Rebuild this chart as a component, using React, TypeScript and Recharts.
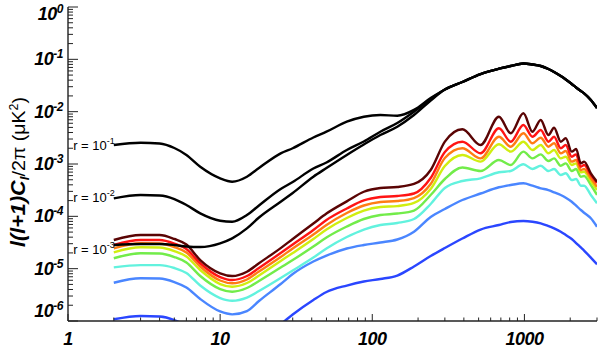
import { LineChart, Line, XAxis, YAxis, ReferenceDot } from "recharts";

// multipole grid shared by every curve
const ells = [2, 3, 4, 5, 6, 7.4, 10, 12, 15, 18, 25, 30, 41, 50, 68, 88, 113, 146, 188, 242, 300, 391, 515, 680, 813, 985, 1130, 1280, 1438, 1567, 1733, 1870, 2047, 2187, 2348, 2467, 2733, 3000];

// total B-mode spectra, r = 0.1 / 0.01 / 0.001 (black)
const r1 = [2.31e-3, 2.55e-3, 2.46e-3, 2.02e-3, 1.49e-3, 8.87e-4, 5.33e-4, 4.59e-4, 5.72e-4, 8.38e-4, 1.6e-3, 2.0e-3, 3.21e-3, 4.14e-3, 6.43e-3, 8.01e-3, 8.63e-3, 8.37e-3, 1.08e-2, 1.82e-2, 2.65e-2, 3.69e-2, 5.24e-2, 6.62e-2, 7.46e-2, 8.32e-2, 7.96e-2, 7.46e-2, 6.53e-2, 5.73e-2, 4.8e-2, 4.12e-2, 3.38e-2, 2.89e-2, 2.48e-2, 2.24e-2, 1.67e-2, 1.17e-2];
const r2 = [2.21e-4, 2.56e-4, 2.5e-4, 2.14e-4, 1.65e-4, 1.14e-4, 8.25e-5, 7.89e-5, 1.06e-4, 1.61e-4, 3.33e-4, 4.53e-4, 8.2e-4, 1.07e-3, 1.85e-3, 2.69e-3, 4.14e-3, 6.07e-3, 9.98e-3, 1.75e-2, 2.65e-2, 3.69e-2, 5.24e-2, 6.62e-2, 7.46e-2, 8.32e-2, 7.96e-2, 7.46e-2, 6.53e-2, 5.73e-2, 4.8e-2, 4.12e-2, 3.38e-2, 2.89e-2, 2.48e-2, 2.24e-2, 1.67e-2, 1.17e-2];
const r3 = [2.83e-5, 2.96e-5, 2.96e-5, 2.83e-5, 2.65e-5, 2.59e-5, 3.05e-5, 3.8e-5, 5.9e-5, 9.49e-5, 1.9e-4, 2.79e-4, 5.72e-4, 8.38e-4, 1.49e-3, 2.36e-3, 3.58e-3, 5.16e-3, 8.63e-3, 1.63e-2, 2.65e-2, 3.69e-2, 5.24e-2, 6.62e-2, 7.46e-2, 8.32e-2, 7.96e-2, 7.46e-2, 6.53e-2, 5.73e-2, 4.8e-2, 4.12e-2, 3.38e-2, 2.89e-2, 2.48e-2, 2.24e-2, 1.67e-2, 1.17e-2];

// coloured spectra, top (dark red) to bottom (blue)
const brown = [3.53e-5, 4.4e-5, 4.4e-5, 3.69e-5, 2.89e-5, 1.46e-5, 8.15e-6, 7.24e-6, 8.74e-6, 1.27e-5, 2.47e-5, 3.69e-5, 7.29e-5, 1.13e-4, 1.93e-4, 2.95e-4, 3.48e-4, 3.63e-4, 4.15e-4, 7.68e-4, 2.67e-3, 4.6e-3, 2.31e-3, 8.01e-3, 3.86e-3, 9.3e-3, 4.14e-3, 6.93e-3, 3.58e-3, 4.94e-3, 2.67e-3, 3.1e-3, 1.72e-3, 1.93e-3, 1.03e-3, 1.11e-3, 6.64e-4, 4.59e-4];
const red = [2.83e-5, 3.53e-5, 3.53e-5, 3.02e-5, 2.37e-5, 1.27e-5, 6.92e-6, 6.07e-6, 7.24e-6, 1.03e-5, 1.99e-5, 2.89e-5, 5.48e-5, 8.51e-5, 1.41e-4, 2.01e-4, 2.34e-4, 2.45e-4, 2.73e-4, 5.4e-4, 1.7e-3, 2.67e-3, 1.6e-3, 4.81e-3, 2.67e-3, 5.56e-3, 3.32e-3, 4.46e-3, 2.67e-3, 3.32e-3, 2.0e-3, 2.31e-3, 1.38e-3, 1.53e-3, 8.87e-4, 9.57e-4, 6.16e-4, 4.33e-4];
const orange = [2.45e-5, 3.05e-5, 3.02e-5, 2.59e-5, 2.04e-5, 1.1e-5, 5.94e-6, 5.25e-6, 6.21e-6, 8.82e-6, 1.67e-5, 2.43e-5, 4.49e-5, 6.83e-5, 1.16e-4, 1.61e-4, 1.88e-4, 1.96e-4, 2.24e-4, 4.15e-4, 1.3e-3, 2.0e-3, 1.28e-3, 3.32e-3, 2.14e-3, 3.86e-3, 2.49e-3, 3.18e-3, 2.14e-3, 2.49e-3, 1.6e-3, 1.77e-3, 1.11e-3, 1.19e-3, 7.68e-4, 8.02e-4, 5.33e-4, 3.68e-4];
const yellow = [2.05e-5, 2.56e-5, 2.54e-5, 2.17e-5, 1.71e-5, 9.42e-6, 5.09e-6, 4.52e-6, 5.32e-6, 7.4e-6, 1.4e-5, 1.99e-5, 3.69e-5, 5.6e-5, 9.29e-5, 1.29e-4, 1.51e-4, 1.57e-4, 1.8e-4, 3.33e-4, 9.15e-4, 1.49e-3, 1.11e-3, 2.38e-3, 1.72e-3, 2.67e-3, 1.85e-3, 2.31e-3, 1.6e-3, 1.85e-3, 1.28e-3, 1.38e-3, 9.57e-4, 1.03e-3, 6.94e-4, 7.12e-4, 4.73e-4, 3.18e-4];
const green = [1.58e-5, 1.97e-5, 1.95e-5, 1.67e-5, 1.31e-5, 7.24e-6, 4.08e-6, 3.63e-6, 4.27e-6, 5.81e-6, 1.05e-5, 1.46e-5, 2.65e-5, 3.94e-5, 6.39e-5, 8.89e-5, 1.06e-4, 1.13e-4, 1.29e-4, 2.56e-4, 5.17e-4, 8.57e-4, 7.35e-4, 1.19e-3, 9.57e-4, 1.72e-3, 1.28e-3, 1.53e-3, 1.14e-3, 1.28e-3, 9.27e-4, 1.03e-3, 7.35e-4, 8.02e-4, 5.72e-4, 5.9e-4, 3.97e-4, 2.56e-4];
const cyan = [1.06e-5, 1.17e-5, 1.17e-5, 1.03e-5, 8.26e-6, 4.76e-6, 2.75e-6, 2.44e-6, 2.81e-6, 3.74e-6, 6.63e-6, 9.22e-6, 1.63e-5, 2.43e-5, 4.03e-5, 5.6e-5, 6.83e-5, 7.45e-5, 8.89e-5, 1.72e-4, 3.48e-4, 4.73e-4, 5.33e-4, 6.94e-4, 7.35e-4, 9.86e-4, 8.02e-4, 9.27e-4, 7.35e-4, 8.02e-4, 6.16e-4, 6.64e-4, 4.94e-4, 5.17e-4, 3.85e-4, 3.85e-4, 2.56e-4, 1.77e-4];
const skyblue = [5.39e-6, 6.54e-6, 6.48e-6, 5.56e-6, 4.36e-6, 2.63e-6, 1.52e-6, 1.34e-6, 1.55e-6, 2.41e-6, 5.09e-6, 7.9e-6, 1.37e-5, 1.78e-5, 2.43e-5, 2.83e-5, 3.16e-5, 3.61e-5, 5.08e-5, 9.7e-5, 1.38e-4, 2.05e-4, 2.73e-4, 3.59e-4, 3.97e-4, 4.28e-4, 3.85e-4, 3.43e-4, 3.18e-4, 2.88e-4, 2.56e-4, 2.27e-4, 1.9e-4, 1.6e-4, 1.32e-4, 1.17e-4, 9.17e-5, 6.33e-5];
const blue = [1.08e-6, 1.25e-6, 1.22e-6, 1.04e-6, 8.0e-7, 5.0e-7, 3.2e-7, 2.8e-7, 3.2e-7, 4.5e-7, 8.7e-7, 1.33e-6, 2.52e-6, 3.58e-6, 4.76e-6, 5.68e-6, 6.34e-6, 7.4e-6, 1.1e-5, 1.74e-5, 2.48e-5, 3.77e-5, 5.6e-5, 6.83e-5, 7.79e-5, 8.14e-5, 7.89e-5, 7.36e-5, 6.53e-5, 5.9e-5, 5.08e-5, 4.4e-5, 3.69e-5, 3.09e-5, 2.54e-5, 2.22e-5, 1.63e-5, 1.21e-5];

const xTicks = [1, 2, 3, 4, 5, 6, 7, 8, 9, 10, 20, 30, 40, 50, 60, 70, 80, 90, 100, 200, 300, 400, 500, 600, 700, 800, 900, 1000, 2000, 3000];
const yTicks: number[] = [];
for (let e = -6; e <= 0; e++) {
  for (let m = 1; m <= 9; m++) {
    if (e === 0 && m > 1) break;
    yTicks.push(m * Math.pow(10, e));
  }
}

const colored = [
  { key: "blue", color: "#2a46ff" },
  { key: "skyblue", color: "#4a86ff" },
  { key: "cyan", color: "#62f2de" },
  { key: "green", color: "#72ec4a" },
  { key: "yellow", color: "#d0ee10" },
  { key: "orange", color: "#ff7c14" },
  { key: "red", color: "#ff1414" },
  { key: "brown", color: "#5a0404" },
];

const data = ells.map((l, i) => ({
  l,
  r1: r1[i],
  r2: r2[i],
  r3: r3[i],
  brown: brown[i],
  red: red[i],
  orange: orange[i],
  yellow: yellow[i],
  green: green[i],
  cyan: cyan[i],
  skyblue: skyblue[i],
  blue: blue[i],
}));

const AXIS = "#222";
const FONT = "'Liberation Sans', Arial, Helvetica, sans-serif";
const tickFont = { fontFamily: FONT, fontWeight: 700, fontStyle: "italic", fontSize: 18, letterSpacing: -0.5 } as const;

const isMajor = (v: number) => Math.abs(Math.log10(v) - Math.round(Math.log10(v))) < 1e-6;

function BottomTick({ x, y, payload }: any) {
  const v = payload.value;
  const major = isMajor(v);
  return (
    <g>
      <line x1={x} x2={x} y1={y} y2={y - (major ? 7 : 3.5)} stroke={AXIS} strokeWidth={1} />
      {major && (
        <text x={x} y={y + 24} textAnchor="middle" fill="#000" style={tickFont}>
          {v}
        </text>
      )}
    </g>
  );
}

function TopTick({ x, y, payload }: any) {
  const major = isMajor(payload.value);
  return <line x1={x} x2={x} y1={y} y2={y + (major ? 7 : 3.5)} stroke={AXIS} strokeWidth={1} />;
}

function LeftTick({ x, y, payload }: any) {
  const v = payload.value;
  const major = isMajor(v);
  const exp = Math.round(Math.log10(v));
  // keep end labels inside the frame like the original
  const base = exp === 0 ? y + 13 : exp === -6 ? y - 4 : y + 6;
  return (
    <g>
      <line x1={x} x2={x + (major ? 10 : 5)} y1={y} y2={y} stroke={AXIS} strokeWidth={1} />
      {major && (
        <text x={x - 5} y={base} textAnchor="end" fill="#000" style={tickFont}>
          10
          <tspan dy={-7} fontSize={12}>
            {exp === 0 ? "0" : "-" + Math.abs(exp)}
          </tspan>
        </text>
      )}
    </g>
  );
}

function RightTick({ x, y, payload }: any) {
  const major = isMajor(payload.value);
  return <line x1={x} x2={x - (major ? 10 : 5)} y1={y} y2={y} stroke={AXIS} strokeWidth={1} />;
}

function rLabel(exp: string, dy: number) {
  return (props: any) => {
    const vb = props.viewBox || {};
    const cx = (vb.cx ?? vb.x ?? 0) + (vb.cx == null ? (vb.width || 0) / 2 : 0);
    const cy = (vb.cy ?? vb.y ?? 0) + (vb.cy == null ? (vb.height || 0) / 2 : 0);
    return (
      <text x={cx + 1} y={cy + dy} textAnchor="end" fill="#000" style={{ fontFamily: FONT, fontSize: 13 }}>
        r = 10
        <tspan dy={-6} fontSize={9}>
          {exp}
        </tspan>
      </text>
    );
  };
}

export default function App() {
  return (
    <div style={{ position: "relative", width: 598, height: 349, background: "#fff" }}>
      <style>{"body{margin:0}"}</style>
      <LineChart width={598} height={349} data={data} margin={{ top: 7, right: 1, left: 0, bottom: 0 }}>
        <XAxis
          dataKey="l"
          type="number"
          scale="log"
          domain={[1, 3000]}
          allowDataOverflow
          ticks={xTicks}
          interval={0}
          height={28}
          tickSize={0}
          tickMargin={0}
          tick={<BottomTick />}
          axisLine={{ stroke: AXIS, strokeWidth: 1.4 }}
          tickLine={false}
        />
        <XAxis
          xAxisId="top"
          orientation="top"
          dataKey="l"
          type="number"
          scale="log"
          domain={[1, 3000]}
          allowDataOverflow
          ticks={xTicks}
          interval={0}
          height={0}
          tickSize={0}
          tickMargin={0}
          tick={<TopTick />}
          axisLine={{ stroke: AXIS, strokeWidth: 1.4 }}
          tickLine={false}
        />
        <YAxis
          type="number"
          scale="log"
          domain={[1e-6, 1]}
          allowDataOverflow
          ticks={yTicks}
          interval={0}
          width={68}
          tickSize={0}
          tickMargin={0}
          tick={<LeftTick />}
          axisLine={{ stroke: AXIS, strokeWidth: 1.4 }}
          tickLine={false}
        />
        <YAxis
          yAxisId="right"
          orientation="right"
          type="number"
          scale="log"
          domain={[1e-6, 1]}
          allowDataOverflow
          ticks={yTicks}
          interval={0}
          width={0}
          tickSize={0}
          tickMargin={0}
          tick={<RightTick />}
          axisLine={{ stroke: AXIS, strokeWidth: 1.4 }}
          tickLine={false}
        />
        {colored.map((c) => (
          <Line
            key={c.key}
            dataKey={c.key}
            type="monotone"
            stroke={c.color}
            strokeWidth={2.4}
            dot={false}
            activeDot={false}
            isAnimationActive={false}
          />
        ))}
        {["r3", "r2", "r1"].map((k) => (
          <Line
            key={k}
            dataKey={k}
            type="monotone"
            stroke="#000"
            strokeWidth={2.4}
            dot={false}
            activeDot={false}
            isAnimationActive={false}
          />
        ))}
        <ReferenceDot x={ells[0]} y={r1[0]} r={0} fill="none" stroke="none" label={rLabel("-1", 5)} />
        <ReferenceDot x={ells[0]} y={r2[0]} r={0} fill="none" stroke="none" label={rLabel("-2", 4)} />
        <ReferenceDot x={ells[0]} y={r3[0]} r={0} fill="none" stroke="none" label={rLabel("-3", 9)} />
      </LineChart>
      <svg width={598} height={349} style={{ position: "absolute", left: 0, top: 0, pointerEvents: "none" }}>
        <text
          transform="rotate(-90)"
          x={-172}
          y={25}
          textAnchor="middle"
          textLength={150}
          lengthAdjust="spacingAndGlyphs"
          fill="#000"
          style={{ fontFamily: FONT, fontSize: 19 }}
        >
          <tspan fontWeight={700} fontStyle="italic" fontSize={21}>l(l+1)C</tspan>
          <tspan fontWeight={700} fontStyle="italic" fontSize={13} dy={4}>l</tspan>
          <tspan dy={-4}>/2π (μK</tspan>
          <tspan fontSize={12} dy={-7}>2</tspan>
          <tspan dy={7}>)</tspan>
        </text>
      </svg>
    </div>
  );
}
